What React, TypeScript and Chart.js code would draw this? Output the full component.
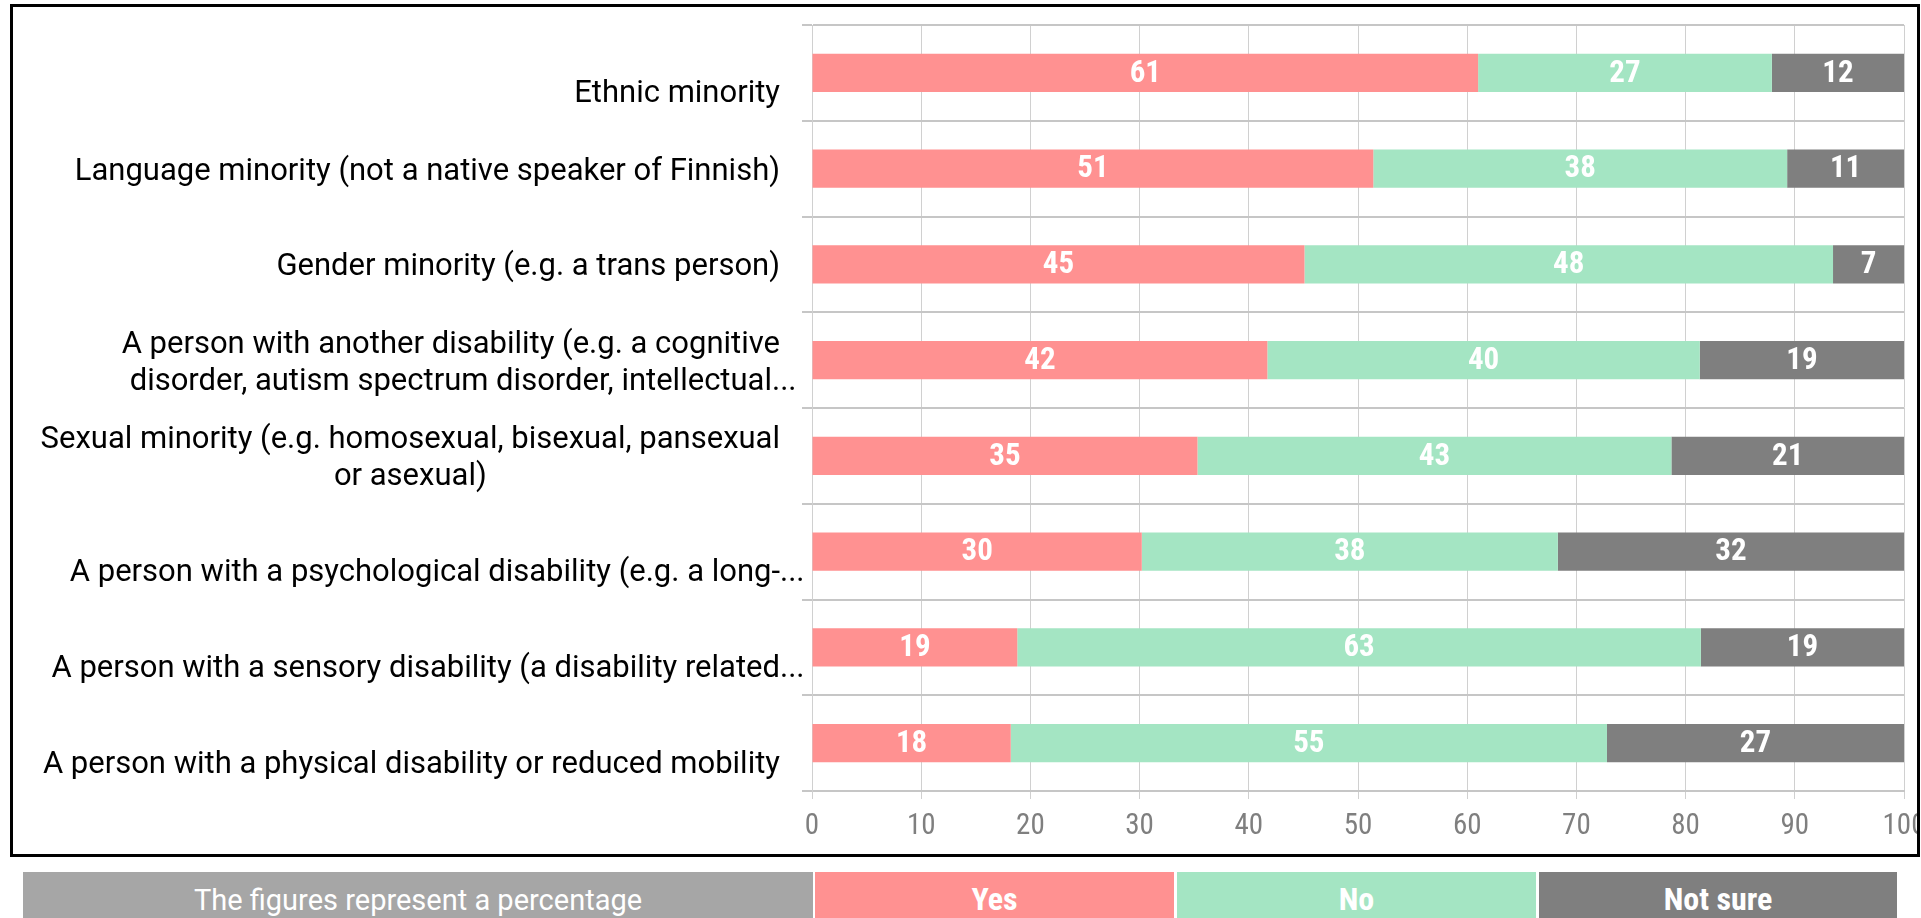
import React, { useEffect, useRef } from "react";
import { Chart, registerables } from "chart.js";

Chart.register(...registerables);

// ---------- data ----------
const categoryLines: string[][] = [
  ["", "Ethnic minority"],
  ["Language minority (not a native speaker of Finnish)"],
  ["Gender minority (e.g. a trans person)"],
  ["A person with another disability (e.g. a cognitive", "disorder, autism spectrum disorder, intellectual..."],
  ["Sexual minority (e.g. homosexual, bisexual, pansexual", "or asexual)"],
  ["", "A person with a psychological disability (e.g. a long-..."],
  ["", "A person with a sensory disability (a disability related..."],
  ["", "A person with a physical disability or reduced mobility"],
];
const yesValues = [61.0, 51.4, 45.1, 41.7, 35.3, 30.2, 18.8, 18.2];
const noValues = [26.9, 37.9, 48.4, 39.6, 43.4, 38.1, 62.6, 54.6];
const notSureValues = [12.1, 10.7, 6.5, 18.7, 21.3, 31.7, 18.6, 27.2];
const seriesNames = ["Yes", "No", "Not sure"];
const seriesColors = ["#FF9191", "#A4E5C3", "#7F7F7F"];
const noteText = "The figures represent a percentage";
const axisMin = 0;
const axisMax = 100;
const axisStep = 10;

// ---------- styles ----------
const LABEL_FONT = '31px Roboto, "Liberation Sans", sans-serif';
const NARROW = '"Liberation Sans Narrow", "Arial Narrow", "Roboto Condensed", Roboto, sans-serif';
const LINE_H = 37;

const yLabelPlugin = {
  id: "yLabelPlugin",
  afterDraw(chart: any) {
    const ctx = chart.ctx;
    const yScale = chart.scales.y;
    const right = chart.chartArea.left - 32;
    ctx.save();
    ctx.font = LABEL_FONT;
    ctx.fillStyle = "#000000";
    ctx.textAlign = "left";
    ctx.textBaseline = "alphabetic";
    categoryLines.forEach((lines, i) => {
      const cy = yScale.getPixelForValue(i);
      const n = lines.length;
      const cores = lines.map((l) => (l.endsWith("...") ? l.slice(0, -3) : l));
      const widths = cores.map((c) => ctx.measureText(c).width);
      const blockW = Math.max(...widths);
      const blockLeft = right - blockW;
      lines.forEach((line, j) => {
        if (!line) return;
        const baseline = cy + (j - (n - 1) / 2) * LINE_H + 11;
        const x = blockLeft + (blockW - widths[j]) / 2;
        ctx.fillText(line, x, baseline);
      });
    });
    ctx.restore();
  },
};

const dataLabelPlugin = {
  id: "dataLabelPlugin",
  afterDatasetsDraw(chart: any) {
    const ctx = chart.ctx;
    ctx.save();
    ctx.font = `bold 31px ${NARROW}`;
    ctx.fillStyle = "#FFFFFF";
    ctx.textAlign = "center";
    ctx.textBaseline = "middle";
    chart.data.datasets.forEach((ds: any, d: number) => {
      const meta = chart.getDatasetMeta(d);
      meta.data.forEach((el: any, i: number) => {
        const p = el.getProps(["x", "base", "y"], true);
        ctx.fillText(String(Math.round(ds.data[i])), (p.x + p.base) / 2, p.y + 1);
      });
    });
    ctx.restore();
  },
};

function BarChart() {
  const ref = useRef<HTMLCanvasElement | null>(null);
  useEffect(() => {
    if (!ref.current) return;
    const chart = new Chart(ref.current, {
      type: "bar",
      data: {
        labels: categoryLines.map((l) => l.filter(Boolean).join(" ")),
        datasets: [yesValues, noValues, notSureValues].map((vals, k) => ({
          label: seriesNames[k],
          data: vals,
          backgroundColor: seriesColors[k],
          borderWidth: 0,
          categoryPercentage: 0.4,
          barPercentage: 1,
        })),
      },
      options: {
        indexAxis: "y",
        responsive: false,
        animation: false,
        layout: { padding: { top: 19, right: 48, bottom: 0, left: 0 } },
        plugins: { legend: { display: false }, tooltip: { enabled: false } },
        scales: {
          x: {
            type: "linear",
            stacked: true,
            min: axisMin,
            max: axisMax,
            ticks: {
              stepSize: axisStep,
              color: "#7F7F7F",
              font: { family: NARROW, size: 29 },
              padding: 10,
              maxRotation: 0,
              autoSkip: false,
            },
            grid: { color: "#D0D0D0", lineWidth: 1, tickLength: 8, drawTicks: true },
            border: { display: true, color: "#C6C6C6", width: 2 },
            afterFit: (s: any) => {
              s.height = 63;
            },
          },
          y: {
            type: "category",
            stacked: true,
            offset: true,
            ticks: { display: false },
            grid: { offset: true, color: "#C6C6C6", lineWidth: 2, tickLength: 10, drawTicks: true },
            border: { display: true, color: "#D0D0D0", width: 1 },
            afterFit: (s: any) => {
              s.width = 800;
            },
          },
        },
      },
      plugins: [yLabelPlugin, dataLabelPlugin],
    } as any);
    return () => chart.destroy();
  }, []);
  return (
    <canvas
      ref={ref}
      width={1940}
      height={848}
      style={{ position: "absolute", left: 0, top: 0, width: 1940, height: 848 }}
    />
  );
}

export default function App() {
  const legendBoxes = [
    { left: 815, width: 359 },
    { left: 1177, width: 359 },
    { left: 1539, width: 358 },
  ];
  return (
    <div
      style={{
        position: "absolute",
        left: 0,
        top: 0,
        width: 1921,
        height: 918,
        overflow: "hidden",
        background: "#FFFFFF",
      }}
    >
      <div
        style={{
          position: "absolute",
          left: 12,
          top: 6,
          width: 1905,
          height: 848,
          overflow: "hidden",
        }}
      >
        <BarChart />
      </div>
      <div
        style={{
          position: "absolute",
          left: 10,
          top: 4,
          width: 1910,
          height: 853,
          border: "3px solid #000000",
          boxSizing: "border-box",
          pointerEvents: "none",
        }}
      />
      <div
        style={{
          position: "absolute",
          left: 23,
          top: 872,
          width: 790,
          height: 46,
          background: "#A6A6A6",
          color: "#FFFFFF",
          font: '29px Roboto, "Liberation Sans", sans-serif',
          lineHeight: "29px",
          paddingTop: 14,
          boxSizing: "border-box",
          textAlign: "center",
          whiteSpace: "nowrap",
        }}
      >
        {noteText}
      </div>
      {seriesNames.map((name, k) => (
        <div
          key={name}
          style={{
            position: "absolute",
            left: legendBoxes[k].left,
            top: 872,
            width: legendBoxes[k].width,
            height: 46,
            background: seriesColors[k],
            color: "#FFFFFF",
            fontFamily: NARROW,
            fontWeight: "bold",
            fontSize: 32,
            lineHeight: "32px",
            paddingTop: 11,
            boxSizing: "border-box",
            textAlign: "center",
            whiteSpace: "nowrap",
          }}
        >
          {name}
        </div>
      ))}
    </div>
  );
}
